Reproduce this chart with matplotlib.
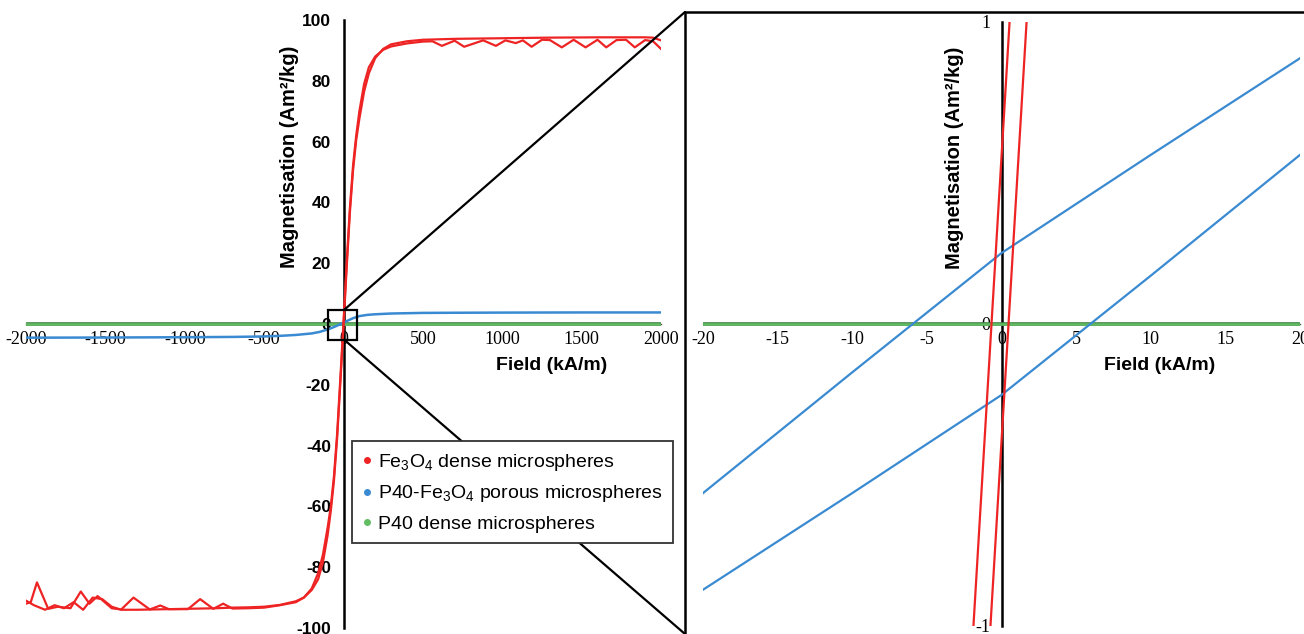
import matplotlib
matplotlib.use("Agg")
import matplotlib.pyplot as plt
from matplotlib.lines import Line2D
from matplotlib.patches import Rectangle, ConnectionPatch

plt.rcParams["font.family"] = ["Liberation Sans", "DejaVu Sans"]
plt.rcParams["mathtext.fontset"] = "custom"
plt.rcParams["mathtext.rm"] = "Liberation Sans"
plt.rcParams["mathtext.it"] = "Liberation Sans:italic"
plt.rcParams["mathtext.bf"] = "Liberation Sans:bold"
plt.rcParams["axes.unicode_minus"] = False

# ---- full loop (kA/m, Am2/kg) ----
fe_down_H = [2000, 1950, 1900, 1835, 1780, 1720, 1655, 1600, 1525, 1450, 1375, 1300, 1250,
             1185, 1130, 1085, 1020, 960, 880, 760, 700, 620, 560, 500, 400, 300, 250, 200,
             160, 130, 100, 80, 60, 40, 20, 0, -20, -40, -60, -80, -100, -130, -160, -200,
             -250, -300, -400, -500, -600, -700, -758, -820, -903, -980, -1100, -1154, -1220,
             -1323, -1400, -1460, -1549, -1600, -1655, -1720, -1800, -1860, -1931, -1970, -2000]
fe_down_M = [90.5, 93.0, 93.4, 91.0, 93.5, 93.4, 91.0, 93.5, 91.0, 93.5, 91.0, 93.4, 93.5,
             91.2, 93.3, 92.4, 93.3, 91.5, 93.3, 91.2, 93.2, 91.5, 93.0, 92.9, 92.3, 91.3, 90.2, 88.0,
             84.5, 79.0, 70.0, 62.0, 52.0, 38.0, 20.0, 0.5, -18.0, -36.0, -50.0, -60.0, -67.0, -76.0, -82.0, -87.0,
             -90.0, -91.5, -92.5, -93.3, -93.5, -93.6, -92.0, -93.7, -90.5, -93.8, -93.8, -92.6, -93.9,
             -90.0, -93.9, -93.5, -89.5, -92.0, -88.0, -93.5, -93.0, -93.7, -85.0, -91.5, -92.0]

fe_up_H = [-2000, -1950, -1880, -1820, -1760, -1700, -1640, -1580, -1520, -1460, -1400, -1300,
           -1200, -1100, -1000, -900, -800, -700, -600, -500, -400, -300, -250, -200, -160, -130,
           -100, -80, -60, -40, -20, 0, 20, 40, 60, 80, 100, 130, 160, 200, 250, 300, 400, 500,
           700, 1000, 1300, 1600, 1900, 1950, 2000]
fe_up_M = [-91.0, -92.5, -94.0, -92.5, -93.5, -91.5, -94.0, -90.0, -90.5, -93.0, -94.0, -94.0,
           -93.9, -93.8, -93.7, -93.6, -93.5, -93.3, -93.2, -93.0, -92.4, -91.2, -90.0, -87.5, -84.0, -78.5,
           -69.5, -61.5, -51.5, -37.5, -19.5, -0.5, 18.5, 36.5, 50.5, 60.5, 67.5, 76.5, 82.5, 87.5, 90.5, 92.0, 93.0, 93.5,
           93.8, 94.0, 94.2, 94.3, 94.3, 94.2, 93.3]

p40fe_H = [-2000, -1500, -1000, -700, -500, -400, -300, -200, -150, -100, -60, -30, 0, 30, 60,
           100, 150, 200, 300, 500, 700, 1000, 1500, 2000]
p40fe_M = [-4.5, -4.45, -4.35, -4.25, -4.1, -3.9, -3.6, -3.1, -2.6, -1.8, -1.0, -0.3, 0.4, 1.2, 1.9,
           2.6, 3.0, 3.2, 3.45, 3.65, 3.7, 3.75, 3.8, 3.8]

p40_H = [-2000, 2000]
p40_M = [0.0, 0.0]

# ---- zoomed region (-20..20 kA/m) ----
zfe_down_H = [0.54, -1.88]
zfe_down_M = [1.0, -1.0]
zfe_up_H = [-0.74, 1.68]
zfe_up_M = [-1.0, 1.0]

zp40fe_down_H = [20, 10, 0, -10, -20]
zp40fe_down_M = [0.88, 0.56, 0.235, -0.16, -0.56]
zp40fe_up_H = [-20, -10, 0, 10, 20]
zp40fe_up_M = [-0.88, -0.56, -0.235, 0.16, 0.56]

zp40_H = [-20, 20]
zp40_M = [0.0, 0.0]

labels = [r"Fe$_3$O$_4$ dense microspheres",
          r"P40-Fe$_3$O$_4$ porous microspheres",
          "P40 dense microspheres"]

RED = "#ee2424"
BLUE = "#3a8ad2"
GREEN = "#62bd62"
DKGREEN = "#3f7f45"

W, H = 1304, 634
fig = plt.figure(figsize=(W / 100, H / 100), dpi=100)

ax1 = fig.add_axes([26 / W, 6 / H, 635 / W, 608 / H])
ax2 = fig.add_axes([703 / W, 8 / H, 597 / W, 604 / H])

for ax in (ax1, ax2):
    ax.patch.set_visible(False)
    ax.spines["top"].set_visible(False)
    ax.spines["right"].set_visible(False)
    ax.spines["left"].set_position(("data", 0))
    ax.spines["bottom"].set_position(("data", 0))
    ax.spines["left"].set_color("black")
    ax.spines["left"].set_linewidth(1.8)
    ax.spines["bottom"].set_color("#555555")
    ax.spines["bottom"].set_linewidth(1.0)
    ax.tick_params(length=0)

# left panel
ax1.plot(p40_H, p40_M, color=DKGREEN, lw=2.6, zorder=3)
ax1.plot(p40_H, p40_M, color=GREEN, lw=1.8, zorder=3)
ax1.plot(p40fe_H, p40fe_M, color=BLUE, lw=1.8, zorder=3)
ax1.plot(fe_up_H, fe_up_M, color=RED, lw=1.6, zorder=4)
ax1.plot(fe_down_H, fe_down_M, color=RED, lw=1.6, zorder=4)
ax1.set_xlim(-2000, 2000)
ax1.set_ylim(-100, 100)
ax1.set_xticks(range(-2000, 2001, 500))
ax1.set_yticks(range(-100, 101, 20))
ax1.tick_params(axis="x", pad=5)
ax1.tick_params(axis="y", pad=9)
for t in ax1.get_xticklabels():
    t.set_fontfamily("Liberation Serif")
    t.set_fontsize(13)
for t in ax1.get_yticklabels():
    t.set_fontweight("bold")
    t.set_fontsize(12.5)
ax1.set_ylabel("Magnetisation (Am²/kg)", fontsize=14.5, fontweight="bold")
ax1.yaxis.set_label_coords(0.43, 0.775)
ax1.set_xlabel("Field (kA/m)", fontsize=14, fontweight="bold")
ax1.xaxis.set_label_coords(0.828, 0.445)
ax1.add_patch(Rectangle((-95, -5.2), 180, 9.9, fill=False, lw=1.6, color="black", zorder=6))

# right panel
ax2.plot(zp40_H, zp40_M, color=DKGREEN, lw=2.6, zorder=3)
ax2.plot(zp40_H, zp40_M, color=GREEN, lw=1.8, zorder=3)
ax2.plot(zp40fe_down_H, zp40fe_down_M, color=BLUE, lw=1.6, zorder=3)
ax2.plot(zp40fe_up_H, zp40fe_up_M, color=BLUE, lw=1.6, zorder=3)
ax2.plot(zfe_down_H, zfe_down_M, color=RED, lw=1.6, zorder=4)
ax2.plot(zfe_up_H, zfe_up_M, color=RED, lw=1.6, zorder=4)
ax2.set_xlim(-20, 20)
ax2.set_ylim(-1, 1)
ax2.set_xticks(range(-20, 21, 5))
ax2.set_yticks([-1, 0, 1])
ax2.tick_params(axis="x", pad=5)
ax2.tick_params(axis="y", pad=8)
for t in ax2.get_xticklabels() + ax2.get_yticklabels():
    t.set_fontfamily("Liberation Serif")
    t.set_fontsize(13)
ax2.set_ylabel("Magnetisation (Am²/kg)", fontsize=14.5, fontweight="bold")
ax2.yaxis.set_label_coords(0.437, 0.775)
ax2.set_xlabel("Field (kA/m)", fontsize=14, fontweight="bold")
ax2.xaxis.set_label_coords(0.765, 0.445)

# zoom frame and connectors
fig.add_artist(Rectangle((685 / W, -0.05), 0.5, (H - 12) / H + 0.05, fill=False,
                         lw=1.8, color="black", transform=fig.transFigure, zorder=3))
for yA, yB in [(4.7, H - 12), (-5.2, 0)]:
    con = ConnectionPatch(xyA=(5, yA), coordsA=ax1.transData,
                          xyB=(685, yB), coordsB="figure pixels",
                          color="black", lw=1.6, zorder=3)
    fig.add_artist(con)

handles = [Line2D([], [], ls="", marker="o", ms=4, color=c) for c in (RED, BLUE, GREEN)]
leg = fig.legend(handles, labels, loc="upper left", bbox_to_anchor=(352 / W, 1 - 441 / H),
                 borderaxespad=0, fontsize=14, frameon=True, fancybox=False, framealpha=1,
                 edgecolor="#333333", handlelength=0.4, handletextpad=0.4,
                 labelspacing=0.55, borderpad=0.55)
leg.get_frame().set_linewidth(1.3)
leg.set_zorder(10)

fig.savefig("out.png", dpi=100)
